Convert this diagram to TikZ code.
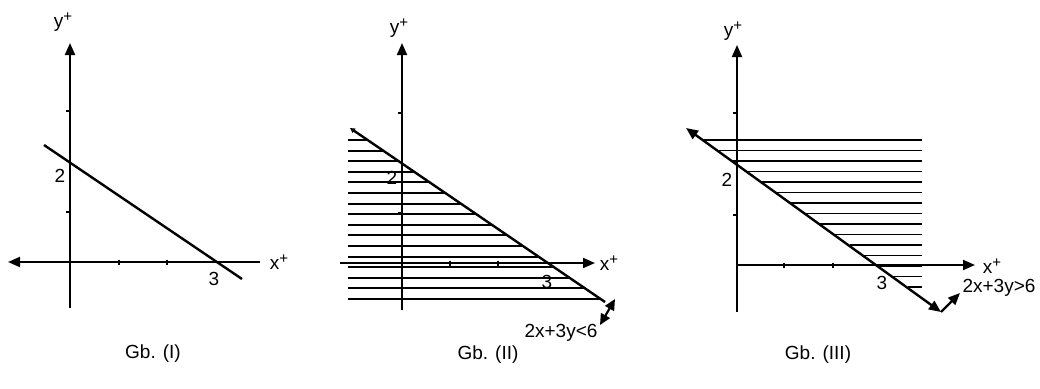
\documentclass[tikz,border=0pt]{standalone}
\usepackage{fontspec}
\setmainfont{Liberation Sans}
\usetikzlibrary{arrows.meta}
\newcommand{\plussup}{\raisebox{0.55ex}{\fontsize{15}{15}\selectfont +}}
\begin{document}
\begin{tikzpicture}[x=1pt,y=-1pt,
  axis/.style={line width=2pt},
  arr/.style={-{Triangle[length=12pt,width=10pt]}},
  graphline/.style={line width=2.4pt},
  hatch/.style={line width=1.9pt},
  tickmark/.style={line width=1.8pt},
  lbl/.style={font=\fontsize{19}{21}\selectfont, inner sep=0pt},
  captxt/.style={font=\fontsize{19}{21}\selectfont, inner sep=0pt}]
\useasboundingbox (0,0) rectangle (1040,388);

% ---------------- Graph I ----------------
\coordinate (Ayb) at (70,308);
\coordinate (Ayt) at (70,43);
\coordinate (Axl) at (8,262);
\coordinate (Axr) at (260,262);
\coordinate (Ls) at (44,145);
\coordinate (Le) at (242,279);
\draw[axis,arr] (Ayb) -- (Ayt);
\draw[axis,arr] (Axr) -- (Axl);
\foreach \t in {119,167} \draw[tickmark] (\t,259.5) -- (\t,264.5);
\foreach \t in {111,212} \draw[tickmark] (66,\t) -- (70,\t);
\draw[graphline] (Ls) -- (Le);
\node[lbl] (a1y) at (63,22) {y\plussup};
\node[lbl] (a1x) at (279,262) {x\plussup};
\node[lbl] (a1two) at (60,176) {2};
\node[lbl] (a1three) at (214,279) {3};
\node[captxt] (cap1) at (153,354) {Gb. (I)};

% ---------------- Graph II ----------------
\coordinate (Byb) at (402,310);
\coordinate (Byt) at (402,43);
\coordinate (Bxl) at (340,263);
\coordinate (Bxr) at (595,263);
\coordinate (Ms) at (350,128);
\coordinate (Me) at (605,302);
\coordinate (Mpa) at (600,325);
\coordinate (Mpb) at (615,299);
\foreach \k in {0,...,15} {
  \pgfmathsetmacro{\yy}{140+\k*10.6}
  \pgfmathsetmacro{\xx}{350+(\yy-128)/0.682}
  \draw[hatch] (348,\yy) -- (\xx,\yy);
}
\draw[axis,arr] (Byb) -- (Byt);
\draw[axis,arr] (Bxl) -- (Bxr);
\foreach \t in {450,498} \draw[tickmark] (\t,260.5) -- (\t,265.5);
\foreach \t in {113,213} \draw[tickmark] (398,\t) -- (402,\t);
\draw[graphline,{Triangle[length=5pt,width=5pt]}-] (Ms) -- (Me);
\draw[line width=2.2pt,{Triangle[length=11pt,width=10pt]}-{Triangle[length=11pt,width=10pt]}] (Mpa) -- (Mpb);
\node[lbl] (b2y) at (399,28) {y\plussup};
\node[lbl] (b2x) at (609,263) {x\plussup};
\node[lbl] (b2two) at (392,178) {2};
\node[lbl] (b2three) at (547,282) {3};
\node[lbl] (b2ineq) at (561,333) {2x+3y<6};
\node[captxt] (cap2) at (488,355) {Gb. (II)};

% ---------------- Graph III ----------------
\coordinate (Cyb) at (737,312);
\coordinate (Cyt) at (737,45);
\coordinate (Cxl) at (737,265);
\coordinate (Cxr) at (975,265);
\coordinate (Ns) at (686,128);
\coordinate (Ne) at (941,312);
\coordinate (Np) at (960,293);
\foreach \k in {0,...,14} {
  \pgfmathsetmacro{\yy}{140+\k*10.5}
  \pgfmathsetmacro{\xx}{688+(\yy-129)/0.718}
  \draw[hatch] (\xx,\yy) -- (922,\yy);
}
\draw[axis,arr] (Cyb) -- (Cyt);
\draw[axis,arr] (Cxl) -- (Cxr);
\foreach \t in {784,833} \draw[tickmark] (\t,262.5) -- (\t,267.5);
\foreach \t in {113,215} \draw[tickmark] (733,\t) -- (737,\t);
\draw[graphline,{Triangle[length=12pt,width=10pt]}-{Triangle[length=12pt,width=10pt]}] (Ns) -- (Ne);
\draw[line width=2.2pt,-{Triangle[length=12pt,width=10pt]}] (Ne) -- (Np);
\node[lbl] (c3y) at (733,31) {y\plussup};
\node[lbl] (c3x) at (992,266) {x\plussup};
\node[lbl] (c3two) at (727,180) {2};
\node[lbl] (c3three) at (882,283) {3};
\node[lbl] (c3ineq) at (999,288) {2x+3y>6};
\node[captxt] (cap3) at (818,355) {Gb. (III)};
\end{tikzpicture}
\end{document}
